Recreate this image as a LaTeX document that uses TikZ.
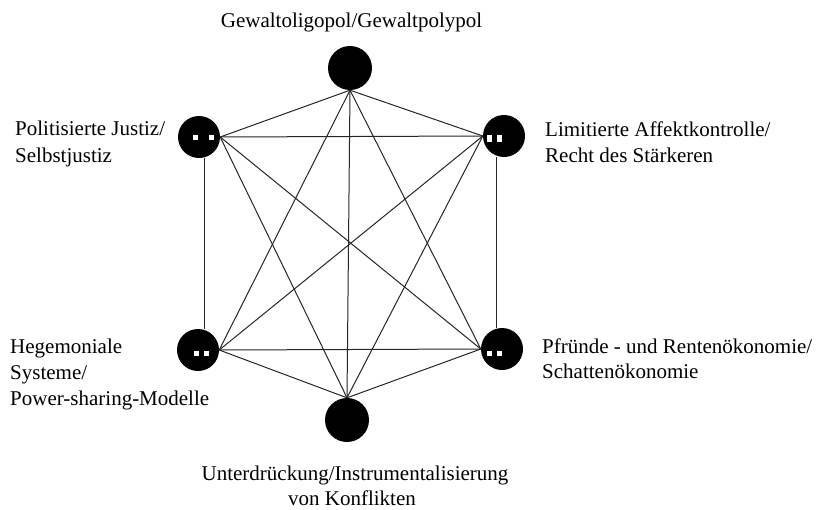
\documentclass[tikz,border=0pt]{standalone}
\usepackage{fontspec}
\setmainfont{Liberation Serif}
\begin{document}
\begin{tikzpicture}[x=1pt,y=-1pt,
  hub/.style={circle,fill=black,inner sep=0pt,minimum size=#1},
  hub/.default=42pt,
  link/.style={line width=1pt,black!85},
  lbl/.style={inner sep=0pt,font=\fontsize{21}{25}\selectfont},
  eye/.style={fill=white}]
\useasboundingbox (0,0) rectangle (826,509);
% hubs
\node[hub=44pt] (T)  at (350,68)  {};
\node[hub]      (LT) at (199,137) {};
\node[hub]      (RT) at (504,136) {};
\node[hub]      (LB) at (198,350) {};
\node[hub]      (RB) at (502,349) {};
\node[hub=44pt] (B)  at (347,420) {};
% connectors
\draw[link] (T.south) -- (LT.east);
\draw[link] (T.south) -- (RT.west);
\draw[link] (T.south) -- (LB.east);
\draw[link] (T.south) -- (RB.west);
\draw[link] (T.south) -- (B.north);
\draw[link] (LT.east) -- (RT.west);
\draw[link] (LT.east) -- (RB.west);
\draw[link] (LT.east) -- (B.north);
\draw[link] ([xshift=5pt]LT.south) -- ([xshift=6pt]LB.north);
\draw[link] (RT.west) -- (LB.east);
\draw[link] (RT.west) -- (B.north);
\draw[link] ([xshift=-8pt]RT.south) -- ([xshift=-6pt]RB.north);
\draw[link] (LB.east) -- (RB.west);
\draw[link] (LB.east) -- (B.north);
\draw[link] (RB.west) -- (B.north);
% white marks
\fill[eye] (193,135) rectangle (198,140);
\fill[eye] (209,135) rectangle (214,140);
\fill[eye] (486.5,135) rectangle (491.5,142);
\fill[eye] (496.5,135) rectangle (501.5,142);
\fill[eye] (194,351) rectangle (199,356);
\fill[eye] (204,351) rectangle (209,356);
\fill[eye] (487,351) rectangle (492,356);
\fill[eye] (497,351) rectangle (502,356);
% labels
\node[lbl,anchor=base] (tT) at (351.5,27) {Gewaltoligopol/Gewaltpolypol};
\node[lbl,anchor=base west] (tLT1) at (15,135) {Politisierte Justiz/};
\node[lbl,anchor=base west] (tLT2) at (15,162) {Selbstjustiz};
\node[lbl,anchor=base west] (tRT1) at (545,136) {Limitierte Affektkontrolle/};
\node[lbl,anchor=base west] (tRT2) at (545,162) {Recht des Stärkeren};
\node[lbl,anchor=base west] (tLB1) at (10,353) {Hegemoniale};
\node[lbl,anchor=base west] (tLB2) at (10,379) {Systeme/};
\node[lbl,anchor=base west] (tLB3) at (10,405) {Power-sharing-Modelle};
\node[lbl,anchor=base west] (tRB1) at (542,353) {Pfründe - und Rentenökonomie/};
\node[lbl,anchor=base west] (tRB2) at (542,378) {Schattenökonomie};
\node[lbl,anchor=base] (tB1) at (355,480) {Unterdrückung/Instrumentalisierung};
\node[lbl,anchor=base] (tB2) at (352,505) {von Konflikten};
\end{tikzpicture}
\end{document}
